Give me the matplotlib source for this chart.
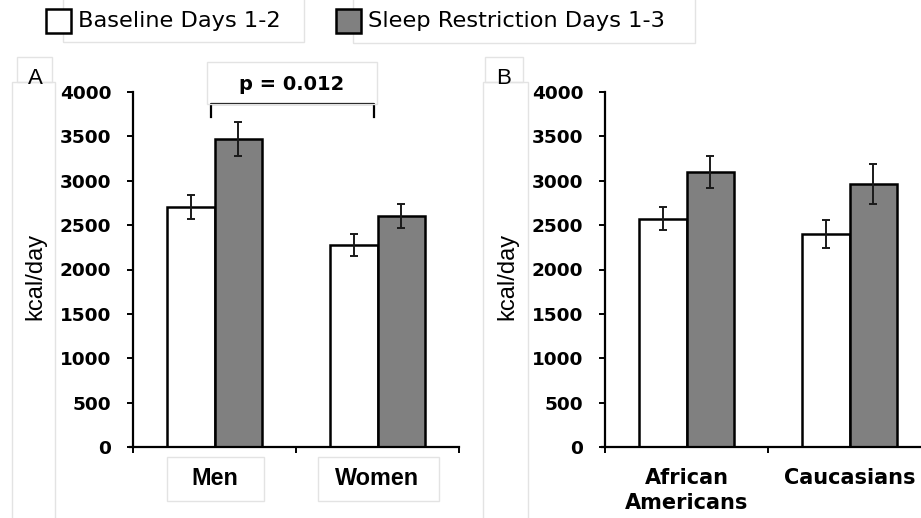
import matplotlib
matplotlib.use("Agg")
import matplotlib.pyplot as plt
from matplotlib.patches import Rectangle
from matplotlib import font_manager as fm
import numpy as np

# ---- data ----
groups_A = ["Men", "Women"]
baseline_A = [2705, 2275]
baseline_A_err = [140, 125]
sleep_A = [3470, 2605]
sleep_A_err = [195, 135]

groups_B = ["African\nAmericans", "Caucasians"]
baseline_B = [2570, 2400]
baseline_B_err = [130, 155]
sleep_B = [3100, 2965]
sleep_B_err = [178, 222]

series_names = ["Baseline Days 1-2", "Sleep Restriction Days 1-3"]
yticks = [0, 500, 1000, 1500, 2000, 2500, 3000, 3500, 4000]
ylabel = "kcal/day"
p_text = "p = 0.012"
bracket_y = [3720, 3870]


def lib_font(bold, size):
    # pick the non-narrow Liberation Sans file explicitly
    for f in fm.fontManager.ttflist:
        if f.name == "Liberation Sans" and "narrow" not in f.fname.lower() \
                and f.style == "normal" and ((f.weight in (700, "bold")) == bold):
            return fm.FontProperties(fname=f.fname, size=size)
    return fm.FontProperties(family="DejaVu Sans", weight="bold" if bold else "normal", size=size)


W, H = 921, 518
fig = plt.figure(figsize=(W / 100, H / 100), dpi=100)
fig.patch.set_facecolor("white")

def fx(x):
    return x / W

def fy(y):
    return 1 - y / H

BOX = "#e3e3e3"

def fig_box(x0, y0, x1, y1):
    fig.patches.append(Rectangle((fx(x0), fy(y1)), fx(x1) - fx(x0), fy(y0) - fy(y1),
                                 transform=fig.transFigure, fill=False,
                                 edgecolor=BOX, linewidth=1.0, zorder=0))

TICKFONT = dict(family="DejaVu Sans", weight="bold", size=13.3)
GRAY = "#808080"

def make_panel(left_px, groups, base, base_err, sl, sl_err):
    ax = fig.add_axes([fx(left_px), fy(447), fx(326), fy(92) - fy(447)])
    x = np.arange(len(groups))
    w = 0.29
    ekw = dict(ecolor="#1a1a1a", elinewidth=1.4, capsize=3.0, capthick=1.4)
    ax.bar(x - w / 2, base, w, color="white", edgecolor="black", linewidth=1.8,
           yerr=base_err, error_kw=ekw, zorder=2)
    ax.bar(x + w / 2, sl, w, color=GRAY, edgecolor="black", linewidth=1.8,
           yerr=sl_err, error_kw=ekw, zorder=2)
    ax.set_xlim(-0.5, len(groups) - 0.5)
    ax.set_ylim(0, 4000)
    ax.set_yticks(yticks)
    ax.set_yticklabels([str(v) for v in yticks], **TICKFONT)
    for s in ["top", "right"]:
        ax.spines[s].set_visible(False)
    for s in ["left", "bottom"]:
        ax.spines[s].set_linewidth(1.6)
    ax.tick_params(axis="y", direction="out", length=4.5, width=1.4, pad=11)
    ax.set_xticks(x)
    ax.set_xticks(np.arange(len(groups) + 1) - 0.5, minor=True)
    ax.tick_params(axis="x", which="major", length=0)
    ax.tick_params(axis="x", which="minor", direction="out", length=4.5, width=1.4)
    ax.spines["bottom"].set_bounds(-0.52, len(groups) - 0.5)
    ax.patch.set_alpha(0)
    return ax, x

axA, xA = make_panel(133, groups_A, baseline_A, baseline_A_err, sleep_A, sleep_A_err)
axA.set_xticklabels([])
axB, xB = make_panel(605, groups_B, baseline_B, baseline_B_err, sleep_B, sleep_B_err)
axB.set_xticklabels(groups_B, family="DejaVu Sans", weight="bold", size=15, linespacing=1.3)
axB.tick_params(axis="x", which="major", pad=15)

# category labels for A in boxes
for xi, g in zip(xA, groups_A):
    axA.text(xi, -0.09, g, transform=axA.get_xaxis_transform(), ha="center", va="center",
             fontproperties=lib_font(True, 16.8))
fig_box(167, 457, 264, 501)
fig_box(318, 457, 439, 501)

# significance bracket
axA.plot([xA[0] - 0.02, xA[0] - 0.02, xA[1] - 0.02, xA[1] - 0.02],
         [bracket_y[0], bracket_y[1], bracket_y[1], bracket_y[0]],
         color="black", linewidth=1.6, clip_on=False, zorder=3)
fig.text(fx(292), fy(85), p_text, ha="center", va="center",
         family="DejaVu Sans", weight="bold", size=14)
fig_box(207, 62, 377, 104)

# y labels
fig.text(fx(35), fy(276), ylabel, rotation=90, ha="center", va="center",
         fontproperties=lib_font(False, 17))
fig.text(fx(507), fy(276), ylabel, rotation=90, ha="center", va="center",
         fontproperties=lib_font(False, 17))
fig_box(12, 82, 55, 530)
fig_box(483, 82, 528, 530)

# panel letters
fig.text(fx(35), fy(79), "A", ha="center", va="center", fontproperties=lib_font(False, 16))
fig.text(fx(504), fy(79), "B", ha="center", va="center", fontproperties=lib_font(False, 16))
fig_box(17, 57, 52, 82)
fig_box(485, 57, 523, 82)

# legend
fig_box(63, -5, 304, 42)
fig_box(353, -5, 695, 43)
fig.patches.append(Rectangle((fx(46), fy(33)), fx(25), fy(9) - fy(33), transform=fig.transFigure,
                             facecolor="white", edgecolor="black", linewidth=1.8))
fig.patches.append(Rectangle((fx(336), fy(33)), fx(25), fy(9) - fy(33), transform=fig.transFigure,
                             facecolor=GRAY, edgecolor="black", linewidth=1.8))
fig.text(fx(78), fy(21), series_names[0], ha="left", va="center",
         family="DejaVu Sans", size=16.2)
fig.text(fx(368), fy(21), series_names[1], ha="left", va="center",
         family="DejaVu Sans", size=16.2)

fig.savefig("out.png", dpi=100, facecolor="white")
